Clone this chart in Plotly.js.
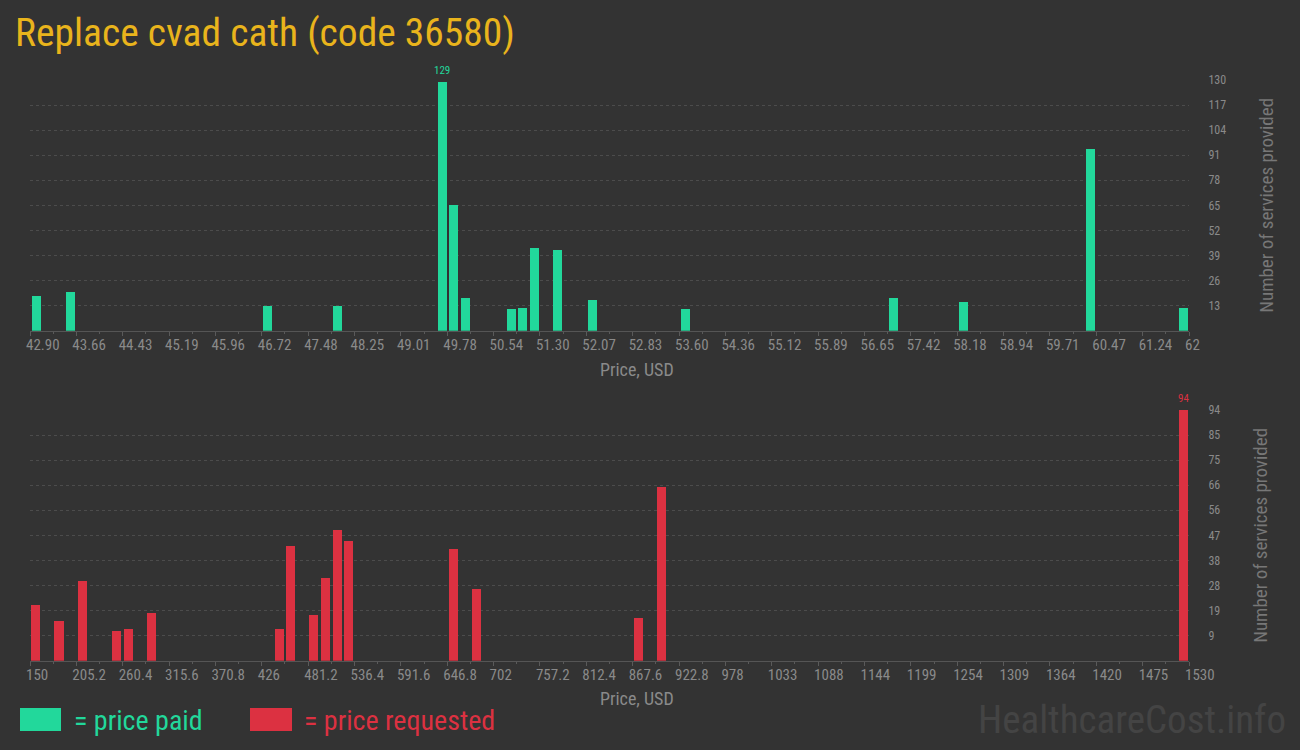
<!DOCTYPE html>
<html>
<head>
<meta charset="utf-8">
<script src="https://cdn.plot.ly/plotly-3.0.1.min.js"></script>
<style>
html,body{margin:0;padding:0;background:#333333;}
#chart{width:1300px;height:750px;}
</style>
</head>
<body>
<div id="chart"></div>
<script>
// ---- data ----
var paidPrices = [43.00, 43.57, 46.82, 47.97, 49.69, 49.88, 50.07, 50.83, 51.02, 51.21, 51.60, 52.17, 53.70, 57.13, 58.28, 60.38, 61.91];
var paidCounts = [18, 20, 13, 13, 129, 65, 17, 11, 12, 43, 42, 16, 11, 17, 15, 94, 12];
var paidTickVals = [42.90, 43.664, 44.428, 45.192, 45.956, 46.72, 47.484, 48.248, 49.012, 49.776, 50.54, 51.304, 52.068, 52.832, 53.596, 54.36, 55.124, 55.888, 56.652, 57.416, 58.18, 58.944, 59.708, 60.472, 61.236, 62];
var paidTickText = ["42.90","43.66","44.43","45.19","45.96","46.72","47.48","48.25","49.01","49.78","50.54","51.30","52.07","52.83","53.60","54.36","55.12","55.89","56.65","57.42","58.18","58.94","59.71","60.47","61.24","62"];
var paidYTickVals = [13, 26, 39, 52, 65, 78, 91, 104, 117, 130];
var paidYTickText = ["13","26","39","52","65","78","91","104","117","130"];

var reqPrices = [156.9, 184.5, 212.1, 253.5, 267.3, 294.9, 446.7, 460.5, 488.1, 501.9, 515.7, 529.5, 653.7, 681.3, 874.5, 902.1, 1523.1];
var reqCounts = [21, 15, 30, 11, 12, 18, 12, 43, 17, 31, 49, 45, 42, 27, 16, 65, 94];
var reqTickVals = [150, 205.2, 260.4, 315.6, 370.8, 426, 481.2, 536.4, 591.6, 646.8, 702, 757.2, 812.4, 867.6, 922.8, 978, 1033.2, 1088.4, 1143.6, 1198.8, 1254, 1309.2, 1364.4, 1419.6, 1474.8, 1530];
var reqTickText = ["150","205.2","260.4","315.6","370.8","426","481.2","536.4","591.6","646.8","702","757.2","812.4","867.6","922.8","978","1033","1088","1144","1199","1254","1309","1364","1420","1475","1530"];
var reqYTickVals = [9.4, 18.8, 28.2, 37.6, 47, 56.4, 65.8, 75.2, 84.6, 94];
var reqYTickText = ["9","19","28","38","47","56","66","75","85","94"];

var titleText = "Replace cvad cath (code 36580)";
var xTitle = "Price, USD";
var yTitle = "Number of services provided";
var legendPaid = "= price paid";
var legendReq = "= price requested";
var watermark = "HealthcareCost.info";

// ---- style ----
var GREEN = "#22d89b";
var RED = "#dc3141";
var BG = "#333333";
var FONT = "'Roboto Condensed', 'Liberation Sans Narrow', 'DejaVu Sans Condensed', Roboto, sans-serif";
var TICKC = "#8a8a8a";
var GRID = "#4c4c4c";

var paidBin = (62 - 42.90) / 100;
var reqBin = (1530 - 150) / 100;

function maxIdx(a){var m=0;for(var i=1;i<a.length;i++){if(a[i]>a[m])m=i;}return m;}
var pm = maxIdx(paidCounts), rm = maxIdx(reqCounts);

var traces = [
  {type:"bar", x:paidPrices, y:paidCounts, width:paidBin*0.78, marker:{color:GREEN}, xaxis:"x", yaxis:"y", hoverinfo:"x+y"},
  {type:"bar", x:reqPrices, y:reqCounts, width:reqBin*0.78, marker:{color:RED}, xaxis:"x2", yaxis:"y2", hoverinfo:"x+y"}
];

var xdom = [30/1300, 1189/1300];
function xax(vals, text, range, anchor, minorStep){
  return {
    domain:xdom, range:range, anchor:anchor,
    tickmode:"array", tickvals:vals, ticktext:text,
    ticks:"outside", ticklen:4, tickcolor:"#5a5a5a", tickwidth:1,
    minor:{ticks:"outside", ticklen:2, tickcolor:"#5a5a5a", tickmode:"linear", tick0:range[0], dtick:minorStep, showgrid:false},
    showline:true, linecolor:"#555555", linewidth:1,
    showgrid:false, zeroline:false,
    ticklabelposition:"outside right",
    ticklabelshift:-5,
    tickfont:{family:FONT, size:15, color:TICKC},
    fixedrange:true
  };
}
function yax(vals, text, range, dom, anchor){
  return {
    domain:dom, range:range, anchor:anchor, side:"right",
    tickmode:"array", tickvals:vals, ticktext:text,
    ticks:"outside", ticklen:16, tickcolor:BG,
    showgrid:true, gridcolor:GRID, griddash:"dot", gridwidth:1,
    zeroline:false, showline:false,
    tickfont:{family:FONT, size:12, color:TICKC},
    title:{text:yTitle, font:{family:FONT, size:19, color:"#777777"}, standoff:34},
    fixedrange:true
  };
}

var layout = {
  width:1300, height:750,
  paper_bgcolor:BG, plot_bgcolor:BG,
  margin:{l:0, r:0, t:0, b:0},
  showlegend:false, bargap:0,
  title:{text:titleText, x:15/1300, xanchor:"left", y:1-32/750, yanchor:"middle", font:{family:FONT, size:39.5, color:"#e9b41c"}},
  xaxis: xax(paidTickVals, paidTickText, [42.90, 62], "y", (paidTickVals[1]-paidTickVals[0])/2),
  yaxis: yax(paidYTickVals, paidYTickText, [0, 130], [1-330.7/750, 1-80/750], "x"),
  xaxis2: xax(reqTickVals, reqTickText, [150, 1530], "y2", (reqTickVals[1]-reqTickVals[0])/2),
  yaxis2: yax(reqYTickVals, reqYTickText, [0, 94], [1-660.7/750, 1-410/750], "x2"),
  annotations:[
    {xref:"x", yref:"y", x:paidPrices[pm], y:paidCounts[pm], text:String(paidCounts[pm]), showarrow:false, yanchor:"bottom", yshift:3, font:{family:FONT, size:11, color:GREEN}},
    {xref:"x2", yref:"y2", x:reqPrices[rm], y:reqCounts[rm], text:String(reqCounts[rm]), showarrow:false, yanchor:"bottom", yshift:3, font:{family:FONT, size:11, color:RED}},
    {xref:"paper", yref:"paper", x:637/1300, y:1-369/750, xanchor:"center", yanchor:"middle", text:xTitle, showarrow:false, font:{family:FONT, size:18, color:TICKC}},
    {xref:"paper", yref:"paper", x:637/1300, y:1-698/750, xanchor:"center", yanchor:"middle", text:xTitle, showarrow:false, font:{family:FONT, size:18, color:TICKC}},
    {xref:"paper", yref:"paper", x:72/1300, y:1-720/750, xanchor:"left", yanchor:"middle", text:legendPaid, showarrow:false, font:{family:FONT, size:28, color:GREEN}},
    {xref:"paper", yref:"paper", x:302/1300, y:1-720/750, xanchor:"left", yanchor:"middle", text:legendReq, showarrow:false, font:{family:FONT, size:28, color:RED}},
    {xref:"paper", yref:"paper", x:1288/1300, y:1-720/750, xanchor:"right", yanchor:"middle", text:watermark, showarrow:false, font:{family:FONT, size:39, color:"#444444"}}
  ],
  shapes:[
    {type:"rect", xref:"paper", yref:"paper", x0:20/1300, x1:61/1300, y0:1-731/750, y1:1-708/750, fillcolor:GREEN, line:{width:0}},
    {type:"rect", xref:"paper", yref:"paper", x0:250/1300, x1:292/1300, y0:1-731/750, y1:1-708/750, fillcolor:RED, line:{width:0}}
  ]
};

Plotly.newPlot("chart", traces, layout, {displayModeBar:false, staticPlot:true});
</script>
</body>
</html>
